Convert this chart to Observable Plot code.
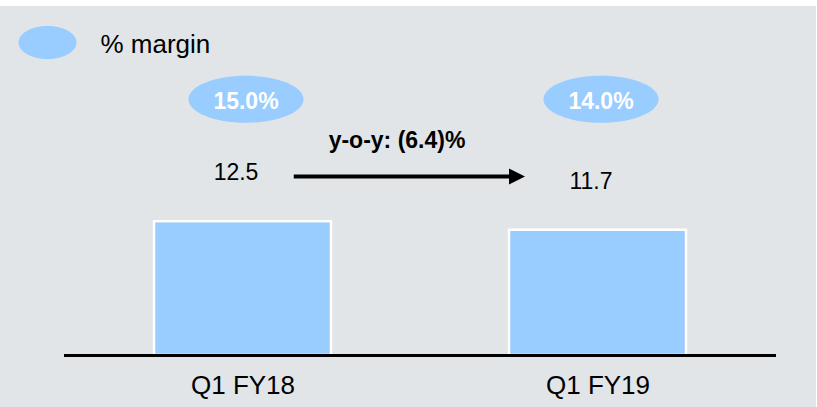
<!DOCTYPE html>
<html>
<head>
<meta charset="utf-8">
<script src="https://cdn.jsdelivr.net/npm/d3@7"></script>
<script src="https://cdn.jsdelivr.net/npm/@observablehq/plot@0.6"></script>
<style>
  html, body { margin: 0; padding: 0; background: #ffffff; }
  #chart { padding-top: 6px; }
</style>
</head>
<body>
<div id="chart"></div>
<script>
// ---- data ----
const categories = ["Q1 FY18", "Q1 FY19"];
const values = [12.5, 11.7];
const margins = [15.0, 14.0];
const legendLabel = "% margin";

// ---- styling ----
const BLUE = "#99CCFF";
const BG = "#E1E5E8";
const FONT = "'Liberation Sans', Arial, Helvetica, sans-serif";

const rows = categories.map((c, i) => ({cat: c, value: values[i], margin: margins[i]}));
const yoy = (values[1] - values[0]) / values[0] * 100;
const fmtPct = (v) => v < 0 ? `(${Math.abs(v).toFixed(1)})%` : `${v.toFixed(1)}%`;
const yoyRow = [{cat0: categories[0], cat1: categories[1], v: values[0], label: `y-o-y: ${fmtPct(yoy)}`}];

function ellipseSymbol(rx, ry) {
  const k = 0.5523;
  return {
    draw(ctx) {
      ctx.moveTo(rx, 0);
      ctx.bezierCurveTo(rx, k * ry, k * rx, ry, 0, ry);
      ctx.bezierCurveTo(-k * rx, ry, -rx, k * ry, -rx, 0);
      ctx.bezierCurveTo(-rx, -k * ry, -k * rx, -ry, 0, -ry);
      ctx.bezierCurveTo(k * rx, -ry, rx, -k * ry, rx, 0);
      ctx.closePath();
    }
  };
}
const triangleRight = {
  draw(ctx) {
    ctx.moveTo(8, 0);
    ctx.lineTo(-8, -8);
    ctx.lineTo(-8, 8);
    ctx.closePath();
  }
};

const chart = Plot.plot({
  width: 816,
  height: 401,
  marginLeft: 64,
  marginRight: 40,
  marginTop: 0,
  marginBottom: 52,
  style: {background: BG, fontFamily: FONT, fontSize: "26px", color: "black", overflow: "visible", display: "block"},
  x: {domain: categories, paddingInner: 0.502, paddingOuter: 0.2524, tickSize: 0, tickPadding: 20, label: null},
  y: {domain: [0, 32.6], axis: null},
  marks: [
    Plot.barY(rows, {x: "cat", y: "value", fill: BLUE, stroke: "white", strokeWidth: 2.5}),
    Plot.ruleY([0], {stroke: "black", strokeWidth: 3}),
    // value labels
    Plot.text(rows, {x: "cat", y: "value", text: d => d.value.toFixed(1), dx: -7, dy: -49, fontSize: 23, fill: "black"}),
    // margin bubbles
    Plot.dot(rows, {x: "cat", frameAnchor: "top", dx: 3, dy: 92.7, symbol: ellipseSymbol(57.5, 23.5), fill: BLUE, stroke: "none"}),
    Plot.text(rows, {x: "cat", frameAnchor: "top", lineAnchor: "middle", dx: 3, dy: 95, text: d => `${d.margin.toFixed(1)}%`, fill: "white", fontWeight: "bold", fontSize: 23}),
    // y-o-y arrow
    Plot.arrow(yoyRow, {x1: "cat0", x2: "cat1", y1: "v", y2: "v", dy: -45.25, insetStart: 50.75, insetEnd: 86, headLength: 0, stroke: "black", strokeWidth: 4, strokeLinecap: "butt"}),
    Plot.dot(yoyRow, {x: "cat1", y: "v", dx: -81, dy: -45.25, symbol: triangleRight, fill: "black", stroke: "none"}),
    Plot.text(yoyRow, {x: "cat0", y: "v", dx: 154, dy: -81, text: "label", fontWeight: "bold", fontSize: 23, fill: "black"}),
    // legend
    Plot.dot([legendLabel], {frameAnchor: "top-left", dx: -17, dy: 36, symbol: ellipseSymbol(29, 16.5), fill: BLUE, stroke: "none"}),
    Plot.text([legendLabel], {frameAnchor: "top-left", lineAnchor: "middle", dx: 36, dy: 38, text: d => d, textAnchor: "start", fontSize: 26, fill: "black"})
  ]
});
document.getElementById("chart").appendChild(chart);
</script>
</body>
</html>
